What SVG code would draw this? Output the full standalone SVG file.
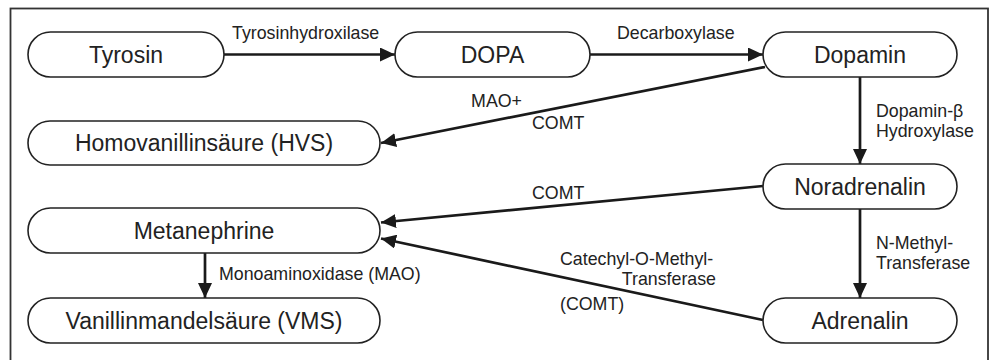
<svg xmlns="http://www.w3.org/2000/svg" width="994" height="360" viewBox="0 0 994 360">
  <style>
    .node rect { fill: #fff; stroke: #222; stroke-width: 1.6; }
    .node text { font-family: "Liberation Sans", Arial, sans-serif; font-size: 23px; fill: #222; text-anchor: middle; }
    .lbl { font-family: "Liberation Sans", Arial, sans-serif; font-size: 17.8px; fill: #222; }
    .edge { stroke: #1a1a1a; stroke-width: 2.7; fill: none; marker-end: url(#arrow); }
  </style>
  <defs>
    <marker id="arrow" markerUnits="userSpaceOnUse" markerWidth="16" markerHeight="14" refX="15" refY="7" orient="auto">
      <path d="M0,0 L15,7 L0,14 Z" fill="#1a1a1a"/>
    </marker>
  </defs>

  <rect width="994" height="360" fill="#fff"/>
  <!-- outer frame, open at the bottom edge -->
  <rect x="10.5" y="8.5" width="977.5" height="380" fill="none" stroke="#333" stroke-width="1.8"/>

  <!-- connectors -->
  <g id="connectors">
    <path class="edge" d="M224,54.5 L395,54.5"/>
    <path class="edge" d="M590,54.5 L763,54.5"/>
    <path class="edge" d="M765,67 L381,143"/>
    <path class="edge" d="M860,77 L860,164"/>
    <path class="edge" d="M763,186 L381,222.5"/>
    <path class="edge" d="M763,320 L381,238.5"/>
    <path class="edge" d="M860,209 L860,298"/>
    <path class="edge" d="M205,253 L205,298"/>

    <text class="lbl" x="232" y="38.5">Tyrosinhydroxilase</text>
    <text class="lbl" x="617" y="38.5">Decarboxylase</text>
    <text class="lbl" x="522" y="107" text-anchor="end">MAO+</text>
    <text class="lbl" x="532" y="129">COMT</text>
    <text class="lbl" x="876" y="117">Dopamin-β</text>
    <text class="lbl" x="876" y="137">Hydroxylase</text>
    <text class="lbl" x="532" y="199">COMT</text>
    <text class="lbl" x="876" y="249">N-Methyl-</text>
    <text class="lbl" x="876" y="269">Transferase</text>
    <text class="lbl" x="560" y="265">Catechyl-O-Methyl-</text>
    <text class="lbl" x="716" y="285" text-anchor="end">Transferase</text>
    <text class="lbl" x="560" y="310">(COMT)</text>
    <text class="lbl" x="219" y="280">Monoaminoxidase (MAO)</text>
  </g>

  <!-- nodes -->
  <g id="tyrosin" class="node">
    <rect x="28" y="32" width="196" height="45" rx="22.5"/>
    <text x="126" y="62.5">Tyrosin</text>
  </g>
  <g id="dopa" class="node">
    <rect x="395" y="32" width="195" height="45" rx="22.5"/>
    <text x="492.5" y="62.5">DOPA</text>
  </g>
  <g id="dopamin" class="node">
    <rect x="763" y="32" width="194" height="45" rx="22.5"/>
    <text x="860" y="62.5">Dopamin</text>
  </g>
  <g id="hvs" class="node">
    <rect x="28" y="121" width="352" height="44" rx="22"/>
    <text x="204" y="151">Homovanillinsäure (HVS)</text>
  </g>
  <g id="noradrenalin" class="node">
    <rect x="763" y="164" width="194" height="45" rx="22.5"/>
    <text x="860" y="194.5">Noradrenalin</text>
  </g>
  <g id="metanephrine" class="node">
    <rect x="28" y="208" width="352" height="45" rx="22.5"/>
    <text x="204" y="238.5">Metanephrine</text>
  </g>
  <g id="vms" class="node">
    <rect x="28" y="298" width="352" height="45" rx="22.5"/>
    <text x="204" y="328.5">Vanillinmandelsäure (VMS)</text>
  </g>
  <g id="adrenalin" class="node">
    <rect x="763" y="298" width="194" height="45" rx="22.5"/>
    <text x="860" y="328.5">Adrenalin</text>
  </g>
</svg>
